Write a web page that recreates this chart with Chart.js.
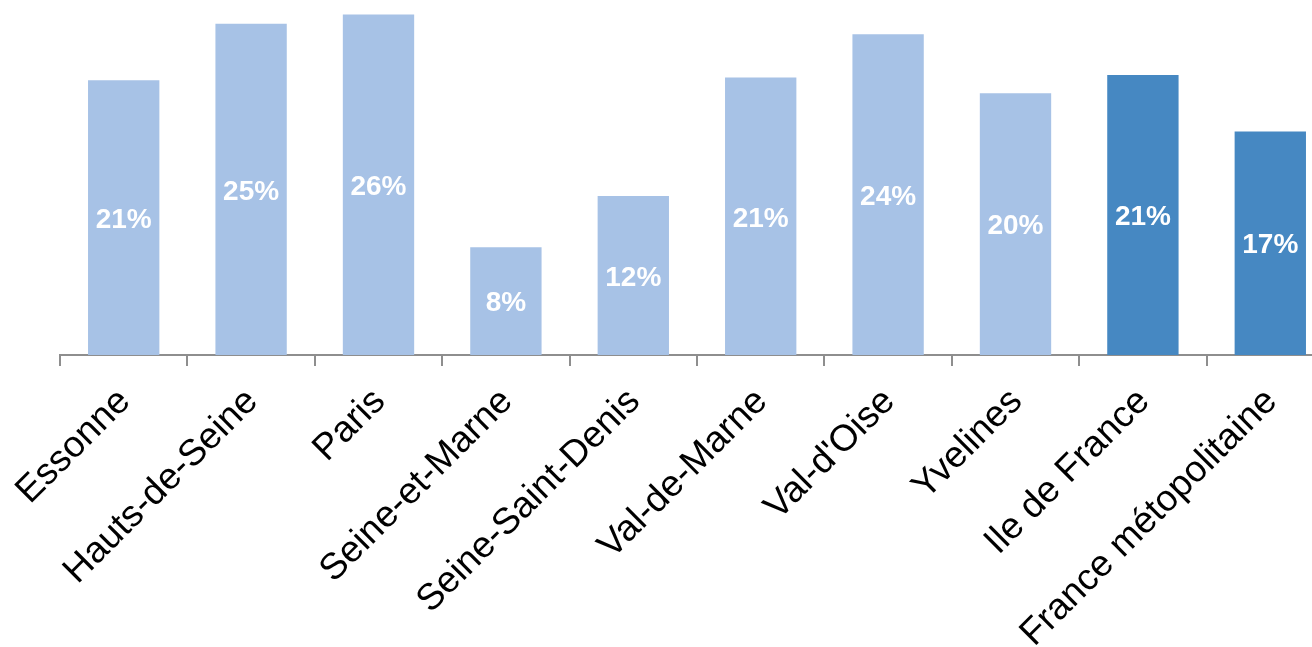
<!DOCTYPE html>
<html>
<head>
<meta charset="utf-8">
<script src="https://cdn.jsdelivr.net/npm/chart.js@4/dist/chart.umd.min.js"></script>
<style>
  html, body { margin: 0; padding: 0; background: #ffffff; overflow: hidden; width: 1312px; height: 647px; }
  #wrap { position: absolute; left: 0; top: 0; width: 1334px; height: 647px; }
</style>
</head>
<body>
<div id="wrap"><canvas id="c" width="1334" height="647"></canvas></div>
<script>
const categories = ['Essonne', 'Hauts-de-Seine', 'Paris', 'Seine-et-Marne', 'Seine-Saint-Denis',
                    'Val-de-Marne', "Val-d'Oise", 'Yvelines', 'Ile de France', 'France métopolitaine'];
const values = [20.9, 25.2, 25.9, 8.2, 12.1, 21.1, 24.4, 19.9, 21.3, 17.0];
const aggregateCategories = ['Ile de France', 'France métopolitaine'];

const LIGHT = '#A7C2E6';
const DARK = '#4688C2';

const valueLabels = {
  id: 'valueLabels',
  afterDatasetsDraw(chart) {
    const ctx = chart.ctx;
    const meta = chart.getDatasetMeta(0);
    ctx.save();
    ctx.fillStyle = '#ffffff';
    ctx.font = 'bold 28px "Liberation Sans", Arial, sans-serif';
    ctx.textAlign = 'center';
    ctx.textBaseline = 'middle';
    meta.data.forEach((bar, i) => {
      const p = bar.getProps(['x', 'y', 'base'], true);
      const v = chart.data.datasets[0].data[i];
      ctx.fillText(Math.round(v) + '%', p.x, (p.y + p.base) / 2 + 2.5);
    });
    ctx.restore();
  }
};

new Chart(document.getElementById('c'), {
  type: 'bar',
  data: {
    labels: categories,
    datasets: [{
      data: values,
      backgroundColor: (c) => aggregateCategories.includes(categories[c.dataIndex]) ? DARK : LIGHT,
      borderWidth: 0,
      barPercentage: 0.56,
      categoryPercentage: 1.0
    }]
  },
  options: {
    responsive: false,
    devicePixelRatio: 1,
    animation: false,
    layout: { padding: { left: 60, right: 0, top: 0, bottom: 0 } },
    plugins: { legend: { display: false }, tooltip: { enabled: false } },
    scales: {
      x: {
        offset: true,
        grid: {
          offset: true,
          drawOnChartArea: false,
          drawTicks: true,
          tickLength: 11,
          color: '#8e8e8e',
          lineWidth: 2
        },
        border: { display: true, color: '#8e8e8e', width: 2 },
        ticks: {
          color: '#000000',
          font: { family: '"Liberation Sans", Arial, sans-serif', size: 37 },
          maxRotation: 45,
          minRotation: 45,
          autoSkip: false,
          padding: 14,
          labelOffset: 1
        },
        afterFit(scale) { scale.height = 292; }
      },
      y: {
        display: false,
        min: 0,
        max: 27
      }
    }
  },
  plugins: [valueLabels]
});
</script>
</body>
</html>
